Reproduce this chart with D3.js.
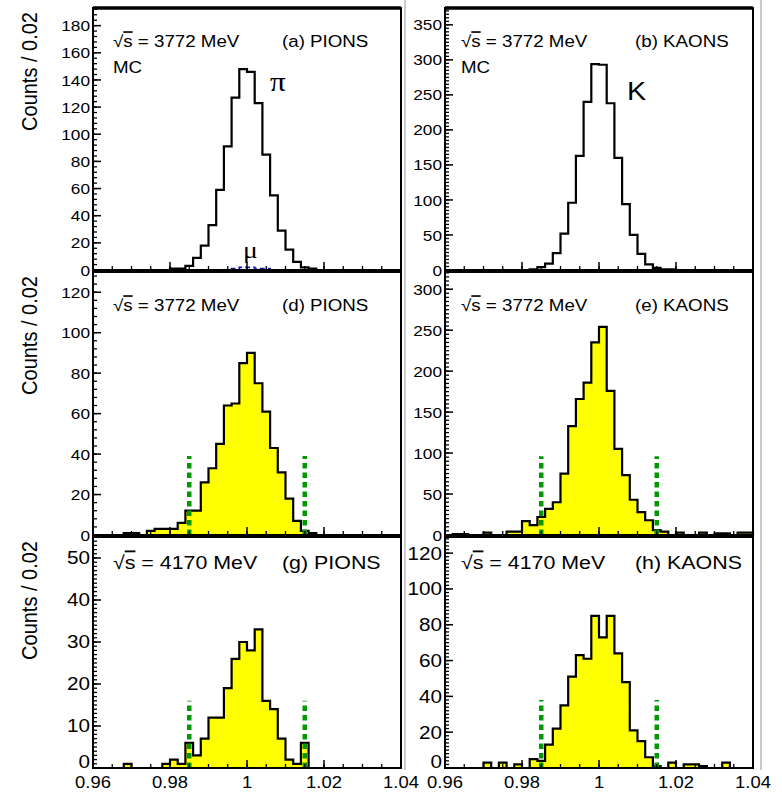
<!DOCTYPE html>
<html>
<head>
<meta charset="utf-8">
<script src="https://cdn.jsdelivr.net/npm/d3@7"></script>
<style>
  body { margin: 0; background: #fff; }
  text { font-family: "Liberation Sans", Arial, Helvetica, sans-serif; fill: #000; }
</style>
</head>
<body>
<div id="chart"></div>
<script>
// histogram binning (40 bins of 0.002 from 0.96 to 1.04)
const xRange = [0.96, 1.04];
const binWidth = 0.002;
const xTicks = [0.96, 0.98, 1.0, 1.02, 1.04];
const xTickLabels = ["0.96", "0.98", "1", "1.02", "1.04"];
const cutValues = [0.985, 1.015];

// (a) MC pions and the muon contamination
const pionsMC = [0,0,0,0,0,0,0,0,0,0, 1,1,3,9,18,33,59,91,127,148, 146,123,85,55,29,15,6,2,1,0, 0,0,0,0,0,0,0,0,0,0];
const muonsMC = [0,0,0,0,0,0,0,0,0,0, 0,0,0,0,0,0,0,0,1,2, 2,1,1,0,0,0,0,0,0,0, 0,0,0,0,0,0,0,0,0,0];
// (b) MC kaons
const kaonsMC = [0,0,0,0,0,0,0,0,0,0, 0,1,4,9,24,52,96,163,240,294, 293,238,160,94,50,23,8,3,1,1, 0,0,0,0,0,0,0,0,0,0];
// (d),(e) data at 3772 MeV
const pions3772 = [0,0,0,0,1,1,0,2,3,3, 3,6,12,12,26,33,45,64,65,85, 90,75,61,43,31,18,7,2,1,0, 0,0,0,0,0,0,0,0,0,0];
const kaons3772 = [0,1,1,0,0,3,0,0,4,4, 17,12,22,32,40,75,133,166,186,235, 254,176,105,73,43,28,18,6,4,0, 3,0,0,3,0,2,2,0,3,3];
// (g),(h) data at 4170 MeV
const pions4170 = [0,0,0,0,1,0,0,0,0,1, 2,1,6,3,7,12,12,19,26,30, 28,33,16,14,7,2,1,6,0,0, 0,0,0,0,0,0,0,0,0,0];
const kaons4170 = [0,0,0,0,0,3,0,3,0,2, 0,5,4,13,22,35,51,63,61,85, 73,85,64,48,21,15,6,1,0,3, 0,2,2,1,0,0,3,0,0,0];

// y axis ranges and tick labels per panel
const yMaxes = [193, 374, 130, 321, 55, 129];
const yTicksA = [0,20,40,60,80,100,120,140,160,180];
const yTicksB = [0,50,100,150,200,250,300,350];
const yTicksD = [0,20,40,60,80,100,120];
const yTicksE = [0,50,100,150,200,250,300];
const yTicksG = [0,10,20,30,40,50];
const yTicksH = [0,20,40,60,80,100,120];
const cutHeights = [39, 96, 16, 38];

const W = 782, H = 792;
const SX = 1.15; // the original figure is stretched horizontally

const svg = d3.select("#chart").append("svg")
    .attr("width", W)
    .attr("height", H);

const cols = [{x0: 93, x1: 401}, {x0: 445, x1: 753}];
const rows = [
  {y0: 8, y1: 270, tick: 15, note: 16.3},
  {y0: 272, y1: 535, tick: 15, note: 16.3},
  {y0: 537, y1: 768, tick: 18, note: 18.6}
];

const panels = [
  {row: 0, col: 0, values: pionsMC, extra: muonsMC, yMax: yMaxes[0], yTicks: yTicksA, minor: 4, tag: "(a) PIONS", energy: "3772", mc: true, fill: false},
  {row: 0, col: 1, values: kaonsMC, yMax: yMaxes[1], yTicks: yTicksB, minor: 5, tag: "(b) KAONS", energy: "3772", mc: true, fill: false},
  {row: 1, col: 0, values: pions3772, yMax: yMaxes[2], yTicks: yTicksD, minor: 4, tag: "(d) PIONS", energy: "3772", fill: true, cut: cutHeights[0]},
  {row: 1, col: 1, values: kaons3772, yMax: yMaxes[3], yTicks: yTicksE, minor: 5, tag: "(e) KAONS", energy: "3772", fill: true, cut: cutHeights[1]},
  {row: 2, col: 0, values: pions4170, yMax: yMaxes[4], yTicks: yTicksG, minor: 1, tag: "(g) PIONS", energy: "4170", fill: true, cut: cutHeights[2]},
  {row: 2, col: 1, values: kaons4170, yMax: yMaxes[5], yTicks: yTicksH, minor: 2, tag: "(h) KAONS", energy: "4170", fill: true, cut: cutHeights[3]}
];

function stretchedText(g, x, y, size, anchor) {
  return g.append("text")
      .attr("transform", "translate(" + x + "," + y + ") scale(" + SX + ",1)")
      .attr("font-size", size)
      .attr("text-anchor", anchor || "start");
}

panels.forEach(function(p) {
  const c = cols[p.col], r = rows[p.row];
  const x = d3.scaleLinear().domain(xRange).range([c.x0, c.x1]);
  const y = d3.scaleLinear().domain([0, p.yMax]).range([r.y1, r.y0]);
  const g = svg.append("g");

  const edges = d3.range(p.values.length + 1).map(i => xRange[0] + i * binWidth);
  const pts = p.values.map((v, i) => [edges[i], v]);
  pts.push([edges[edges.length - 1], p.values[p.values.length - 1]]);

  if (p.fill) {
    g.append("path")
        .attr("d", d3.area().curve(d3.curveStepAfter)
            .x(d => x(d[0])).y0(y(0)).y1(d => y(d[1]))(pts))
        .attr("fill", "#ffff00");
  }

  const outline = [[edges[0], 0]].concat(pts, [[edges[edges.length - 1], 0]]);
  g.append("path")
      .attr("d", d3.line().curve(d3.curveStepAfter).x(d => x(d[0])).y(d => y(d[1]))(outline))
      .attr("fill", "none")
      .attr("stroke", "#000")
      .attr("stroke-width", 2.2);

  if (p.extra) {
    const mu = p.extra.map((v, i) => [edges[i], v]);
    mu.push([edges[edges.length - 1], 0]);
    g.append("path")
        .attr("d", d3.line().curve(d3.curveStepAfter).x(d => x(d[0])).y(d => y(d[1]))(mu.filter((d, i) => i >= 17 && i <= 25)))
        .attr("fill", "none")
        .attr("stroke", "#1a1ab4")
        .attr("stroke-width", 1.8)
        .attr("stroke-dasharray", "5,3");
  }

  if (p.cut) {
    cutValues.forEach(function(cv) {
      g.append("line")
          .attr("x1", x(cv)).attr("x2", x(cv))
          .attr("y1", y(0)).attr("y2", y(p.cut))
          .attr("stroke", "#009900")
          .attr("stroke-width", 4.5)
          .attr("stroke-dasharray", "5.5,4");
    });
  }

  // y axis ticks (inside) and labels
  const minorTicks = d3.range(0, p.yMax, p.minor);
  g.selectAll(".ymin").data(minorTicks).enter().append("line")
      .attr("x1", c.x0).attr("x2", c.x0 + 4)
      .attr("y1", d => y(d)).attr("y2", d => y(d))
      .attr("stroke", "#000").attr("stroke-width", 1.3);
  g.selectAll(".ymaj").data(p.yTicks).enter().append("line")
      .attr("x1", c.x0).attr("x2", c.x0 + 8)
      .attr("y1", d => y(d)).attr("y2", d => y(d))
      .attr("stroke", "#000").attr("stroke-width", 1.5);
  p.yTicks.forEach(function(t) {
    stretchedText(g, c.x0 - 3, y(t) - (p.row === 2 && t === 0 ? 6 : 0), r.tick, "end")
        .attr("dominant-baseline", "central")
        .text(t);
  });

  // x axis ticks (inside)
  const xMinor = d3.range(0, 17).map(i => xRange[0] + i * 0.005);
  g.selectAll(".xmin").data(xMinor).enter().append("line")
      .attr("x1", d => x(d)).attr("x2", d => x(d))
      .attr("y1", r.y1).attr("y2", r.y1 - 4)
      .attr("stroke", "#000").attr("stroke-width", 1.3);
  g.selectAll(".xmaj").data(xTicks).enter().append("line")
      .attr("x1", d => x(d)).attr("x2", d => x(d))
      .attr("y1", r.y1).attr("y2", r.y1 - 8)
      .attr("stroke", "#000").attr("stroke-width", 1.5);

  if (p.row === 2) {
    xTicks.forEach(function(t, i) {
      stretchedText(g, x(t), 788, 16, "middle").text(xTickLabels[i]);
    });
  }

  // frame
  g.append("rect")
      .attr("x", c.x0).attr("y", r.y0)
      .attr("width", c.x1 - c.x0).attr("height", r.y1 - r.y0)
      .attr("fill", "none")
      .attr("stroke", "#000")
      .attr("stroke-width", 2);
  if (p.row === 0) {
    g.append("line")
        .attr("x1", c.x0).attr("x2", c.x1)
        .attr("y1", r.y0).attr("y2", r.y0)
        .attr("stroke", "#000").attr("stroke-width", 3.5);
  }

  // annotations
  const left = c.x0 + (p.col === 0 ? 20 : 16);
  const base = r.y0 + (p.row === 2 ? 32 : 39);
  const t = stretchedText(g, left, base, r.note, "start");
  t.append("tspan").text("\u221A");
  t.append("tspan").attr("text-decoration", "overline").text("s");
  t.append("tspan").text(" = " + p.energy + " MeV");
  stretchedText(g, c.x0 + (p.col === 0 ? 189 : 190), base, r.note, "start").text(p.tag);
  if (p.mc) {
    stretchedText(g, left, base + 26, r.note, "start").text("MC");
  }
});

// particle labels in the MC panels
stretchedText(svg, 270, 91, 27, "start").style("font-family", "'Liberation Serif', serif").text("\u03C0");
stretchedText(svg, 243, 258, 24, "start").style("font-family", "'Liberation Serif', serif").text("\u03BC");
stretchedText(svg, 627, 100, 25, "start").text("K");

// pad borders
[405, 761].forEach(function(px) {
  svg.append("line")
      .attr("x1", px).attr("x2", px).attr("y1", 0).attr("y2", 770)
      .attr("stroke", "#999").attr("stroke-width", 1);
});

// y axis titles
rows.forEach(function(r) {
  svg.append("text")
      .attr("transform", "translate(37," + (r.y0 + 4) + ") scale(1.1,1) rotate(-90)")
      .attr("font-size", 20)
      .attr("text-anchor", "end")
      .text("Counts / 0.02");
});
</script>
</body>
</html>
